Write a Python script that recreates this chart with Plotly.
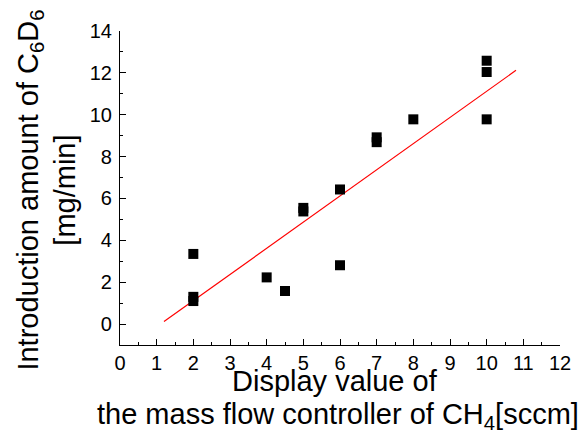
import plotly.graph_objects as go

# measured points
flow_sccm = [2, 2, 2, 4, 4.5, 5, 5, 6, 6, 7, 7, 8, 10, 10, 10]
c6d6_mg_min = [3.35, 1.3, 1.1, 2.23, 1.58, 5.55, 5.38, 2.81, 6.43, 8.92, 8.69, 9.78, 12.58, 12.04, 9.78]

# fitted line end points
fit_x = [1.2, 10.8]
fit_y = [0.12, 12.12]

FONT = "Liberation Sans, Arial, sans-serif"

fig = go.Figure()
fig.add_trace(go.Scatter(
    x=fit_x, y=fit_y, mode="lines",
    line=dict(color="#ff0000", width=1.2),
    showlegend=False,
))
fig.add_trace(go.Scatter(
    x=flow_sccm, y=c6d6_mg_min, mode="markers",
    marker=dict(symbol="square", size=10, color="black"),
    showlegend=False,
))

axis_common = dict(
    showgrid=False, zeroline=False, showline=True,
    linecolor="black", linewidth=1.2,
    ticks="inside", ticklen=6, tickwidth=1.2, tickcolor="black",
    tickfont=dict(family=FONT, size=20, color="black"),
    mirror=False,
)

fig.update_xaxes(
    range=[0, 12], dtick=1, tick0=0,
    minor=dict(ticks="inside", dtick=0.5, ticklen=3, tickwidth=1, tickcolor="black"),
    **axis_common,
)
fig.update_yaxes(
    range=[-1, 14], dtick=2, tick0=0,
    minor=dict(ticks="inside", dtick=1, ticklen=3, tickwidth=1, tickcolor="black"),
    ticklabelstandoff=3,
    **axis_common,
)

# axis titles as annotations (the first x line overlaps the tick labels)
title_font = dict(family=FONT, size=29, color="black")
fig.add_annotation(
    text="Display value of", xref="paper", yref="paper",
    x=0.489, y=-0.116, xanchor="center", yanchor="middle",
    showarrow=False, font=title_font,
)
fig.add_annotation(
    text="the mass flow controller of CH<sub>4</sub>[sccm]", xref="paper", yref="paper",
    x=0.495, y=-0.225, xanchor="center", yanchor="middle",
    showarrow=False, font=title_font,
)
fig.add_annotation(
    text="Introduction amount of C<sub>6</sub>D<sub>6</sub><br>[mg/min]",
    xref="paper", yref="paper", x=-0.168, y=0.492,
    xanchor="center", yanchor="middle", textangle=-90,
    showarrow=False, font=title_font,
)

# page body has an 8px margin, so size and margins are offset by that
fig.update_layout(
    width=579, height=428,
    margin=dict(l=112, r=27, t=13, b=91),
    paper_bgcolor="white", plot_bgcolor="white",
)

fig.write_html("out.html")
